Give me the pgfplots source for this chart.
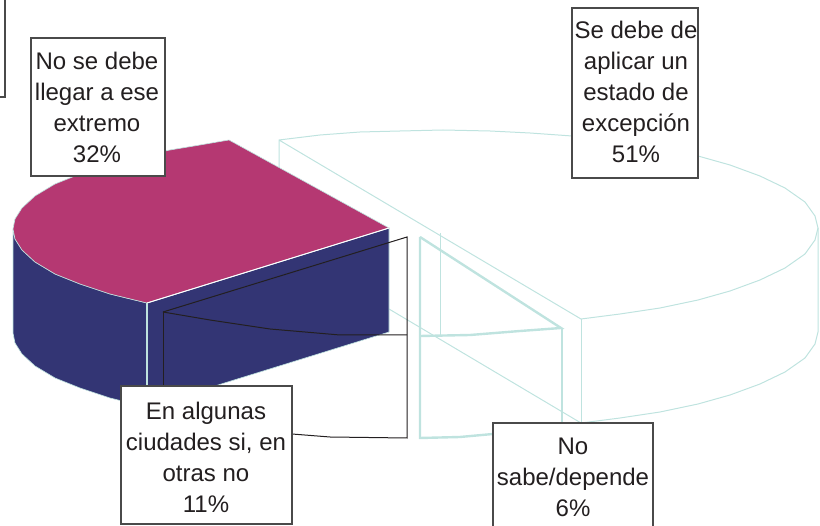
\documentclass[border=0pt]{standalone}
\usepackage{fontspec}
\setmainfont{Liberation Sans}
\usepackage{pgfplots}
\pgfplotsset{compat=1.18}
\definecolor{mag}{HTML}{B53872}
\definecolor{nav}{HTML}{333574}
\definecolor{pale}{HTML}{BFE3DF}
\definecolor{ink}{HTML}{231F20}
\definecolor{boxc}{HTML}{4A4A4A}
\tikzset{
  lab/.style={font=\fontsize{24}{31}\selectfont, align=center, text=ink, inner sep=0pt},
  bx/.style={draw=boxc, line width=1.2pt, fill=white},
}
\begin{document}
\begin{tikzpicture}
\begin{axis}[
  scale only axis, width=820pt, height=526pt,
  xmin=0, xmax=820, ymin=0, ymax=526, y dir=reverse,
  hide axis, clip=true,
  every axis plot/.append style={no markers},
]
% invisible frame
\addplot[draw=none] coordinates {(0,0) (820,526)};
% big slice (51%)
\addplot[draw=pale, line width=1pt] coordinates {(279,170) (279,140) (320,135) (360,132) (400,131) (443,130) (490,131) (530,133) (572,136) (620,143) (660,149) (698,156) (730,165) (760,176) (785,188) (805,202) (815,216) (818,228) (815,240) (805,254) (785,268) (760,280) (730,291) (698,300) (660,308) (620,314) (581,319) (279,140)};
\addplot[draw=pale, line width=1pt] coordinates {(818,228) (818,332) (815,344) (805,358) (785,372) (760,384) (730,395) (698,404) (660,412) (620,418) (581,423) (389,309)};
\addplot[draw=pale, line width=1pt] coordinates {(581,319) (581,423)};
\addplot[draw=pale, line width=1pt] coordinates {(440,233) (440,337)};
% small slice (6%)
\addplot[draw=pale, line width=2.4pt] coordinates {(420,237) (561,328) (520,331) (470,335) (420,336)};
\addplot[draw=pale, line width=2.4pt] coordinates {(420,237) (420,438) (460,437) (493,434)};
\addplot[draw=pale, line width=2.4pt] coordinates {(562,328) (562,424)};
% 32% slice side
\addplot[fill=nav, draw=pale, line width=0.6pt] coordinates {(13,229) (15,239) (22,250) (35,262) (55,274) (80,284) (110,294) (147,303) (389,228) (389,332) (147,407) (110,398) (80,388) (55,378) (35,366) (22,354) (15,343) (13,333)} -- cycle;
% 32% slice top
\addplot[fill=mag, draw=pale, line width=0.6pt] coordinates {(389,228) (229,140) (200,145) (170,150) (140,156) (110,164) (80,174) (55,184) (35,196) (22,208) (15,219) (13,229) (15,239) (22,250) (35,262) (55,274) (80,284) (110,294) (147,303)} -- cycle;
\addplot[draw=white, line width=1pt] coordinates {(147,303) (389,228)};
\addplot[draw=pale, line width=1.4pt] coordinates {(147,303) (147,407)};
% leaders
\addplot[draw=ink, line width=1pt] coordinates {(163,312) (407,237) (407,438) (330,437) (292,434)};
\addplot[draw=ink, line width=1pt] coordinates {(163,312) (210,320) (270,329) (340,335) (407,335)};
\addplot[draw=ink, line width=1pt] coordinates {(163,312) (163,387)};
% boxes
\addplot[draw=boxc, line width=1.2pt] coordinates {(5,0) (5,97) (0,97)};
\addplot[bx] coordinates {(31,38) (165,38) (165,176) (31,176)} -- cycle;
\addplot[bx] coordinates {(572,8) (698,8) (698,178) (572,178)} -- cycle;
\addplot[bx] coordinates {(121,386) (292,386) (292,524) (121,524)} -- cycle;
\addplot[bx] coordinates {(493,423) (653,423) (653,540) (493,540)} -- cycle;
% labels
\node[lab] at (axis cs:97,107) {No se debe\\llegar a ese\\extremo\\32\%};
\node[lab] at (axis cs:636,92) {Se debe de\\aplicar un\\estado de\\excepción\\51\%};
\node[lab] at (axis cs:206,457) {En algunas\\ciudades si, en\\otras no\\11\%};
\node[lab] at (axis cs:573,477) {No\\sabe/depende\\6\%};
\end{axis}
\end{tikzpicture}
\end{document}
